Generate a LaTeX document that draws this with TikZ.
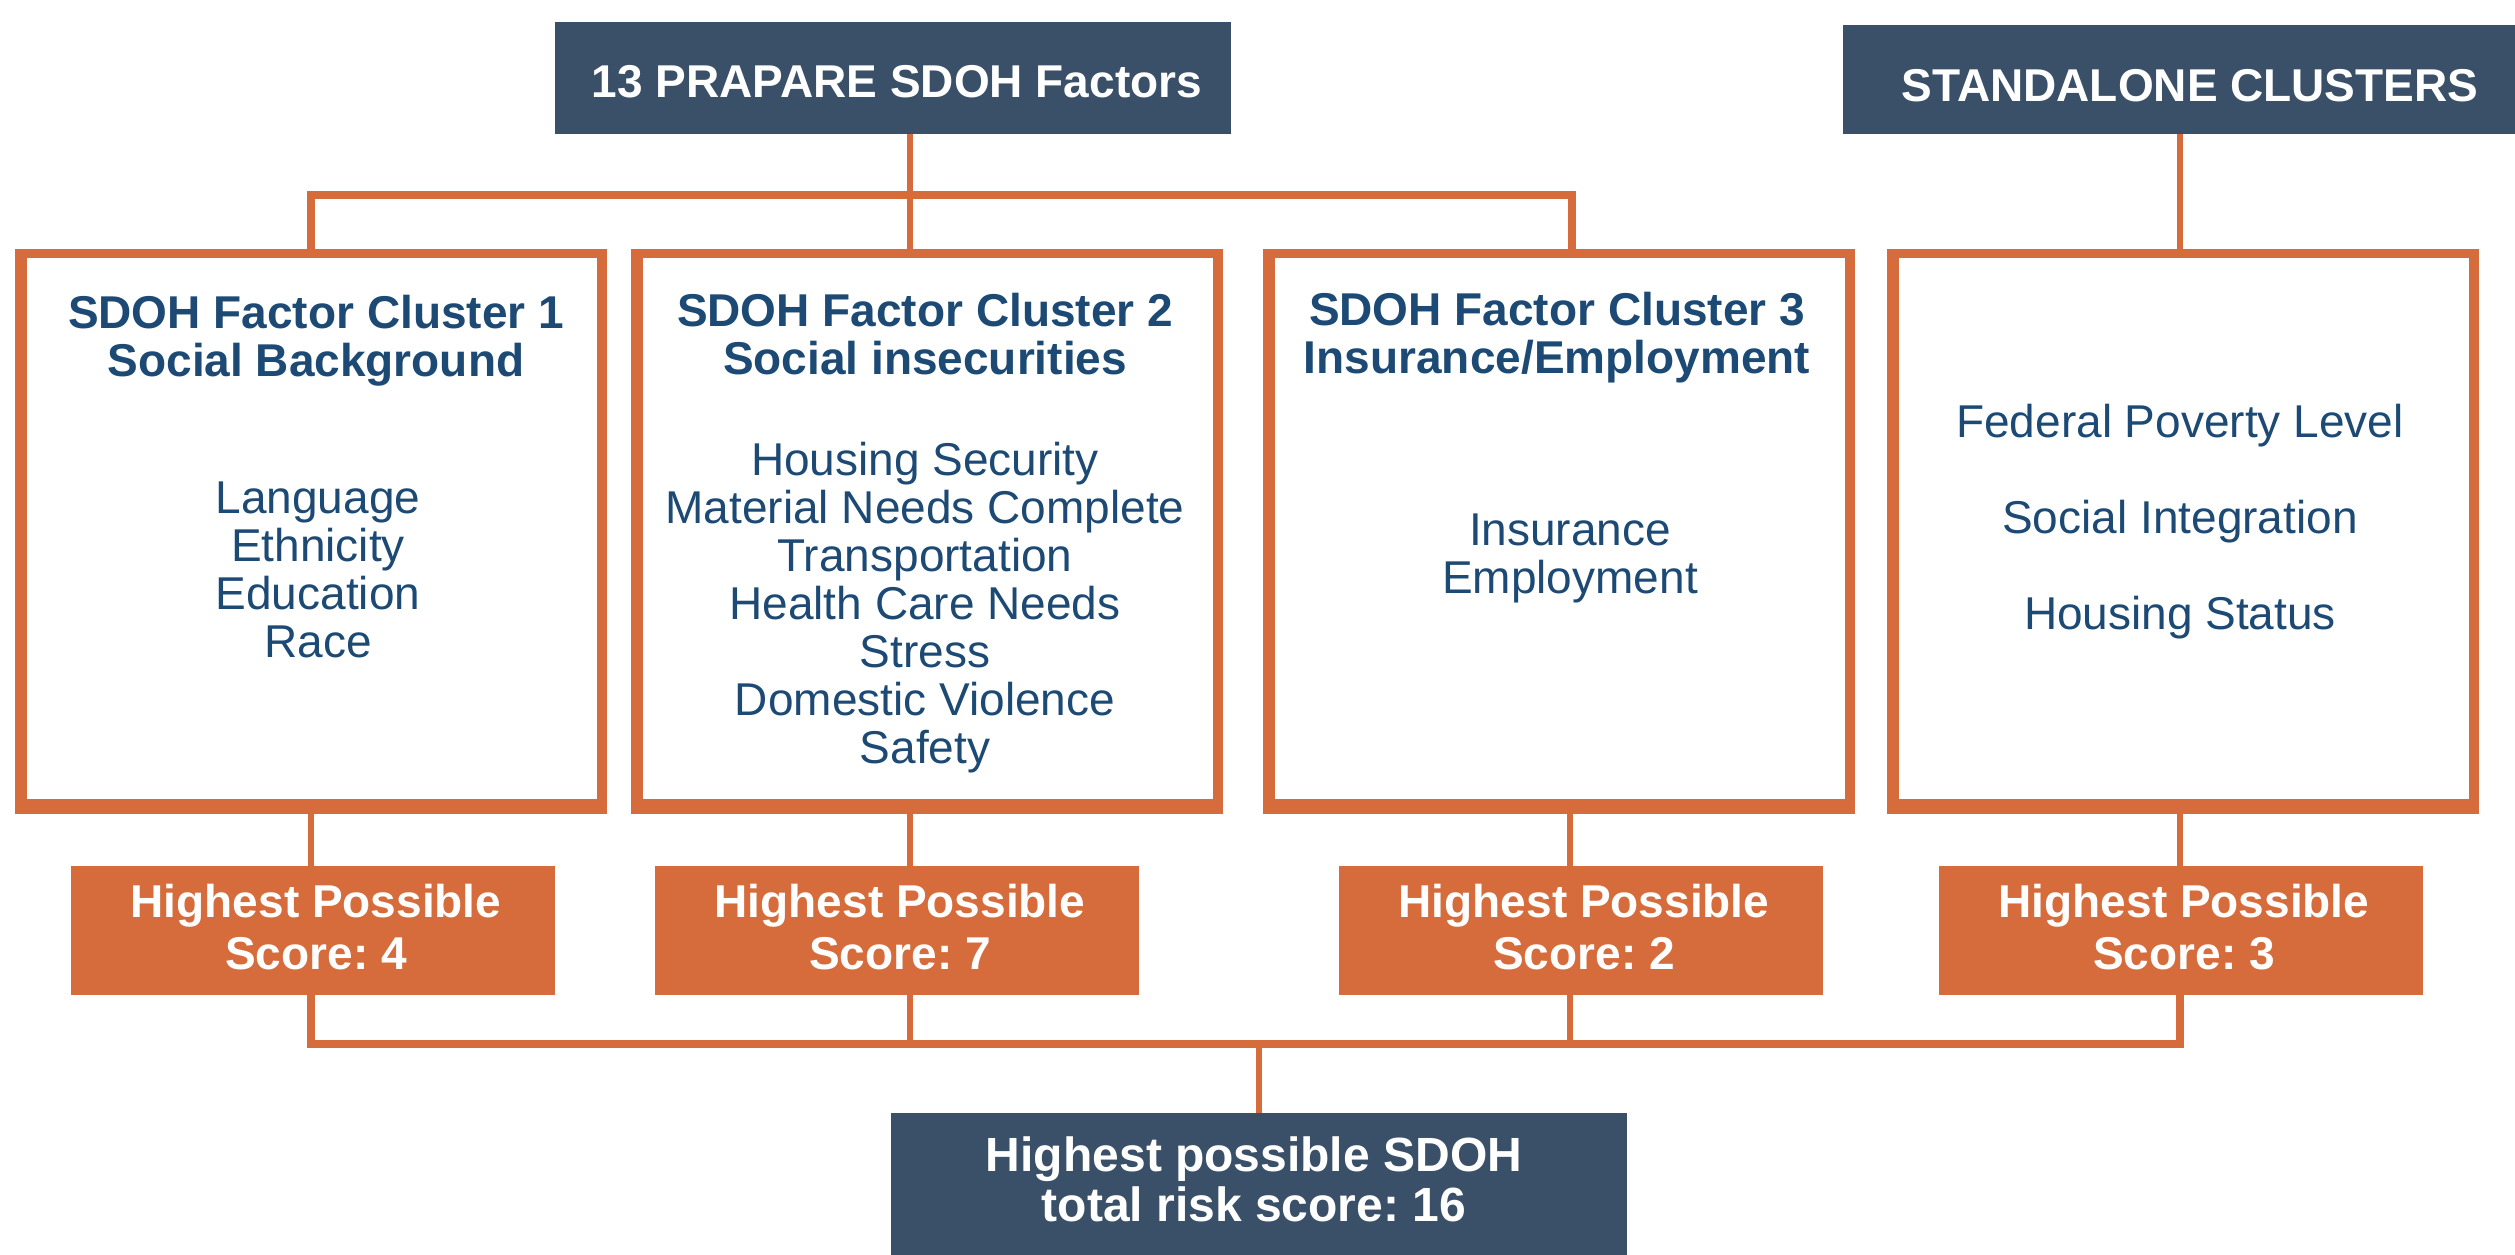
\documentclass[tikz,border=0pt]{standalone}
\usepackage{fontspec}
\setmainfont{Liberation Sans}
\usetikzlibrary{calc}
\definecolor{rust}{RGB}{214,108,59}
\definecolor{slate}{RGB}{58,80,104}
\definecolor{ink}{RGB}{28,74,116}
% centred stack of lines whose baseline is the first line's baseline
\newcommand{\txtrows}[1]{\begin{tabular}[t]{@{}c@{}}#1\end{tabular}}
\frenchspacing
\begin{document}
\begin{tikzpicture}[x=1pt,y=-1pt,
  wire/.style={draw=rust,line width=6.5pt,line join=miter},
  bus/.style={draw=rust,line width=7.5pt,line join=miter},
  clusterbox/.style={fill=rust,inner sep=0pt,outer sep=0pt,minimum width=592pt,minimum height=565pt},
  scorebox/.style={fill=rust,inner sep=0pt,outer sep=0pt,minimum width=484pt,minimum height=129pt},
  darkbox/.style={fill=slate,inner sep=0pt,outer sep=0pt},
  txt/.style={inner sep=0pt,outer sep=0pt,anchor=base,text=ink,font=\fontsize{46}{48}\selectfont},
  head/.style={txt,font=\bfseries\fontsize{46}{48}\selectfont},
  whitehead/.style={inner sep=0pt,outer sep=0pt,anchor=base,text=white,font=\bfseries\fontsize{46}{52}\selectfont}]
\useasboundingbox (0,0) rectangle (2515,1254);

% ---- header boxes ----
\node[darkbox,minimum width=676pt,minimum height=112pt] (t1) at (893,78) {};
\node[darkbox,minimum width=682pt,minimum height=109pt] (t2) at (2184,79.5) {};
\node[whitehead] (t1txt) at (897,97) {13 PRAPARE SDOH Factors};
\node[whitehead] (t2txt) at (2190,101) {STANDALONE CLUSTERS};

% ---- cluster boxes ----
\node[clusterbox] (c1) at (310.5,531.5) {};
\node[clusterbox] (c2) at (927,531.5) {};
\node[clusterbox] (c3) at (1559,531.5) {};
\node[clusterbox] (c4) at (2183,531.5) {};
\foreach \c in {c1,c2,c3,c4}
  \fill[white] ($(\c.north west)+(12,9)$) rectangle ($(\c.south east)+(-10,-15)$);

\node[head] (h1) at (316,328) {\txtrows{SDOH Factor Cluster 1\\Social Background}};
\node[txt]  (i1) at (318,513) {\txtrows{Language\\Ethnicity\\Education\\Race}};
\node[head] (h2) at (925,326) {\txtrows{SDOH Factor Cluster 2\\Social insecurities}};
\node[txt]  (i2) at (925,475) {\txtrows{Housing Security\\Material Needs Complete\\Transportation\\Health Care Needs\\Stress\\Domestic Violence\\Safety}};
\node[head] (h3) at (1557,325) {\txtrows{SDOH Factor Cluster 3\\Insurance/Employment}};
\node[txt]  (i3) at (1570,545) {\txtrows{Insurance\\Employment}};
\node[txt]  (i4) at (2180,437) {\txtrows{Federal Poverty Level\\[48pt]Social Integration\\[48pt]Housing Status}};

% ---- score boxes ----
\node[scorebox] (s1) at (313,930.5) {};
\node[scorebox] (s2) at (897,930.5) {};
\node[scorebox] (s3) at (1581,930.5) {};
\node[scorebox] (s4) at (2181,930.5) {};
\node[whitehead] (s1txt) at (316,917) {\txtrows{Highest Possible\\Score: 4}};
\node[whitehead] (s2txt) at (900,917) {\txtrows{Highest Possible\\Score: 7}};
\node[whitehead] (s3txt) at (1584,917) {\txtrows{Highest Possible\\Score: 2}};
\node[whitehead] (s4txt) at (2184,917) {\txtrows{Highest Possible\\Score: 3}};

% ---- total box ----
\node[darkbox,minimum width=736pt,minimum height=150pt] (tot) at (1259,1188) {};
\node[inner sep=0pt,outer sep=0pt,anchor=base,text=white,font=\bfseries\fontsize{48}{50}\selectfont]
  (tottxt) at (1254,1171) {\txtrows{Highest possible SDOH\\total risk score: 16}};

% ---- connectors ----
\coordinate (a1) at (311,195);
\coordinate (a2) at (910,195);
\coordinate (a3) at (1572,195);
\coordinate (b1) at (311,1044);
\coordinate (b2) at (910,1044);
\coordinate (b3) at (1570,1044);
\coordinate (b4) at (2180,1044);

\draw[bus] (a1 |- c1.north) -- (a1) -- (a3) -- (a3 |- c3.north);
\draw[wire] (t1.south -| a2) -- (a2 |- c2.north);
\draw[wire] (t2.south -| b4) -- (b4 |- c4.north);

\draw[wire] (c1.south -| b1) -- (s1.north -| b1);
\draw[wire] (c2.south -| b2) -- (s2.north -| b2);
\draw[wire] (c3.south -| b3) -- (s3.north -| b3);
\draw[wire] (c4.south -| b4) -- (s4.north -| b4);

\draw[bus] (s1.south -| b1) -- (b1) -- (b4) -- (s4.south -| b4);
\draw[wire] (s2.south -| b2) -- (b2);
\draw[wire] (s3.south -| b3) -- (b3);
\draw[wire] (tot.north |- b1) -- (tot.north);
\end{tikzpicture}
\end{document}
